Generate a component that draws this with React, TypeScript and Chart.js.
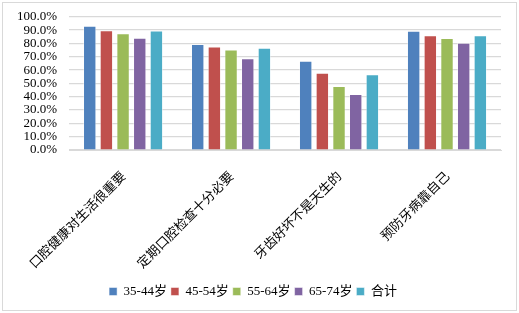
import React, { useEffect, useRef } from "react";
import { Chart, registerables } from "chart.js";

Chart.register(...registerables);

const categories = ["口腔健康对生活很重要", "定期口腔检查十分必要", "牙齿好坏不是天生的", "预防牙病靠自己"];
const seriesNames = ["35-44岁", "45-54岁", "55-64岁", "65-74岁", "合计"];
const s1 = [93.1, 79.4, 66.9, 89.3];
const s2 = [89.8, 77.6, 57.8, 86.0];
const s3 = [87.5, 75.3, 47.9, 84.0];
const s4 = [84.2, 68.7, 42.0, 80.4];
const s5 = [89.5, 76.6, 56.7, 86.0];
const colors = ["#4F81BD", "#C0504D", "#9BBB59", "#8064A2", "#4BACC6"];

const OFFSET = 3;

const frame = {
  id: "frame",
  beforeDraw(chart: any) {
    const { ctx } = chart;
    ctx.save();
    ctx.fillStyle = "#ffffff";
    ctx.fillRect(0, 0, chart.width, chart.height);
    ctx.strokeStyle = "#d9d9d9";
    ctx.lineWidth = 1;
    ctx.strokeRect(2.5, 2.5 + OFFSET, chart.width - 5, chart.height - 5 - OFFSET);
    ctx.restore();
  },
};

export default function App() {
  const ref = useRef<HTMLCanvasElement>(null);
  useEffect(() => {
    document.body.style.margin = "0";
    const data = [s1, s2, s3, s4, s5];
    const chart = new Chart(ref.current!, {
      type: "bar",
      data: {
        labels: categories,
        datasets: seriesNames.map((n, i) => ({
          label: n,
          data: data[i],
          backgroundColor: colors[i],
          borderColor: "rgba(255,255,255,0.6)",
          borderWidth: 0.8,
          categoryPercentage: 0.772,
          barPercentage: 0.78,
        })),
      },
      options: {
        animation: false,
        responsive: false,
        maintainAspectRatio: false,
        layout: { padding: { left: 5, right: 18, top: 4, bottom: 5 } },
        plugins: {
          legend: {
            position: "bottom",
            labels: {
              boxWidth: 8,
              boxHeight: 8,
              padding: 4,
              color: "#000",
              font: { family: "'Liberation Serif', 'Noto Sans CJK SC', serif", size: 13, weight: "normal" },
            },
          },
          tooltip: { enabled: false },
        },
        scales: {
          x: {
            grid: { display: false },
            border: { color: "#d9d9d9" },
            ticks: {
              minRotation: 45,
              maxRotation: 45,
              padding: 10,
              color: "#000",
              font: { family: "'Noto Sans CJK SC', serif", size: 13 },
            },
          },
          y: {
            min: 0,
            max: 100,
            border: { display: false },
            grid: { color: "#d9d9d9", lineWidth: 1.3, drawTicks: false },
            ticks: {
              stepSize: 10,
              autoSkip: false,
              padding: 12,
              color: "#000",
              font: { family: "'Liberation Serif', serif", size: 13 },
              callback: (v: any) => Number(v).toFixed(1) + "%",
            },
          },
        },
      },
      plugins: [frame],
    });
    return () => chart.destroy();
  }, []);
  return (
    <div style={{ position: "fixed", left: 0, top: -OFFSET, width: 519, height: 313 + OFFSET }}>
      <canvas ref={ref} width={519} height={313 + OFFSET} style={{ width: 519, height: 313 + OFFSET, display: "block" }} />
    </div>
  );
}
